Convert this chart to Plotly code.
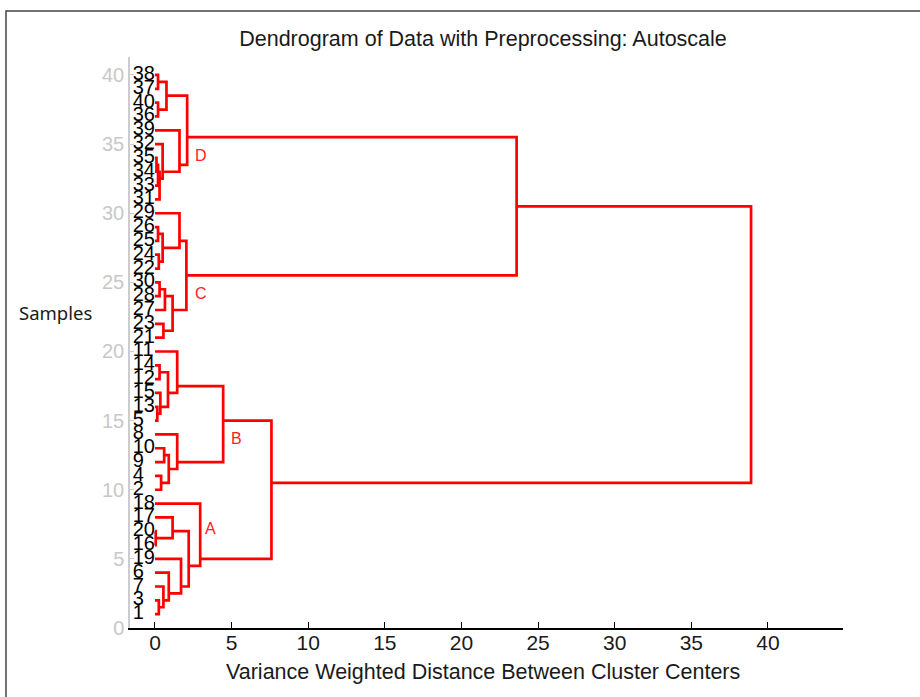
import plotly.graph_objects as go

# Sample order along the vertical axis, from y=1 (bottom) to y=40 (top)
leaf_order = [1, 3, 7, 6, 19, 16, 20, 17, 18, 2,
              4, 9, 10, 8, 5, 13, 15, 12, 14, 11,
              21, 23, 27, 28, 30, 22, 24, 25, 26, 29,
              31, 33, 34, 35, 32, 39, 36, 40, 37, 38]

# Linkage table: each row joins two nodes at a distance; new clusters get ids 41, 42, ...
link_a = [20, 13, 38, 40, 35, 26, 3, 24, 45, 14,
          30, 49, 15, 4, 46, 32, 7, 23, 10, 51,
          43, 50, 6, 59, 17, 60, 11, 8, 29, 39,
          19, 69, 61, 65, 18, 67, 76, 73, 78]
link_b = [16, 5, 37, 36, 34, 25, 1, 22, 33, 12,
          28, 31, 42, 2, 48, 52, 47, 21, 9, 27,
          44, 53, 57, 54, 41, 58, 62, 64, 55, 56,
          63, 66, 70, 71, 74, 68, 75, 72, 77]
link_dist = [0.05, 0.15, 0.2, 0.2, 0.1, 0.2, 0.25, 0.25, 0.2, 0.3,
             0.3, 0.3, 0.35, 0.4, 0.5, 0.5, 0.55, 0.55, 0.6, 0.65,
             0.75, 0.85, 0.9, 0.9, 1.15, 1.15, 1.45, 1.45, 1.6, 1.6,
             1.7, 2.05, 2.1, 2.2, 2.95, 4.45, 7.6, 23.6, 38.9]

# Cluster names and the linkage node each one refers to
cluster_names = ["A", "B", "C", "D"]
cluster_nodes = [75, 76, 72, 73]
cluster_label_dx = [0.65, 0.9, 0.95, 0.9]
cluster_label_dy = [2.2, -1.3, -1.3, -1.3]

y_ticks = [0, 5, 10, 15, 20, 25, 30, 35, 40]
x_ticks = [0, 5, 10, 15, 20, 25, 30, 35, 40]

# --- build dendrogram geometry -------------------------------------------
members = {leaf: [i + 1] for i, leaf in enumerate(leaf_order)}
height = {leaf: 0.0 for leaf in leaf_order}
ypos = {leaf: float(i + 1) for i, leaf in enumerate(leaf_order)}

xs, ys = [], []
for k, (a, b, d) in enumerate(zip(link_a, link_b, link_dist)):
    node = 41 + k
    members[node] = members[a] + members[b]
    height[node] = d
    ypos[node] = sum(members[node]) / len(members[node])
    xs += [height[a], d, d, height[b], None]
    ys += [ypos[a], ypos[a], ypos[b], ypos[b], None]

FONT = "Liberation Sans, Arial, sans-serif"

fig = go.Figure()
fig.add_trace(go.Scatter(
    x=xs, y=ys, mode="lines",
    line=dict(color="#ff0000", width=2.7),
    hoverinfo="skip", showlegend=False,
))

# leaf labels stacked next to the axis
fig.add_trace(go.Scatter(
    x=[-1.45] * len(leaf_order),
    y=[ypos[l] for l in leaf_order],
    mode="text",
    text=[str(l) for l in leaf_order],
    textposition="middle right",
    textfont=dict(family=FONT, size=20, color="#000000"),
    cliponaxis=False, hoverinfo="skip", showlegend=False,
))

annotations = []
for name, node, dx, dy in zip(cluster_names, cluster_nodes, cluster_label_dx, cluster_label_dy):
    annotations.append(dict(
        x=height[node] + dx, y=ypos[node] + dy, xref="x", yref="y",
        text=name, showarrow=False, xanchor="center", yanchor="middle",
        font=dict(family=FONT, size=16, color="#ff2020"),
    ))

annotations.append(dict(
    x=0.4944, y=-0.077, xref="paper", yref="paper",
    text="Variance Weighted Distance Between Cluster Centers",
    showarrow=False, xanchor="center", yanchor="middle",
    font=dict(family=FONT, size=21.5, color="#1a1a1a"),
))
annotations.append(dict(
    x=-0.105, y=0.5517, xref="paper", yref="paper",
    text="Samples", showarrow=False, xanchor="center", yanchor="middle",
    font=dict(family="Noto Sans, Open Sans, sans-serif", size=18.5, color="#1a1a1a"),
))

fig.update_layout(
    width=920, height=697,
    margin=dict(l=130, r=77, t=57, b=69),
    paper_bgcolor="white", plot_bgcolor="white",
    title=dict(
        text="Dendrogram of Data with Preprocessing: Autoscale",
        x=0.525, xref="container", xanchor="center",
        y=1 - 38 / 697, yref="container", yanchor="middle",
        font=dict(family=FONT, size=21.5, color="#1a1a1a"),
    ),
    annotations=annotations,
    shapes=[dict(
        type="rect", xref="paper", yref="paper",
        x0=(6 - 130) / 713, x1=2.0, y0=(628 - 11) / 571, y1=-2.0,
        line=dict(color="#444444", width=1.5), fillcolor="rgba(0,0,0,0)",
        layer="below",
    )],
    xaxis=dict(
        range=[-1.63, 44.9], tickvals=x_ticks,
        ticks="inside", ticklen=6, tickwidth=1.2, tickcolor="#000000",
        showline=True, linecolor="#000000", linewidth=1.5,
        showgrid=False, zeroline=False,
        ticklabelstandoff=-5,
        tickfont=dict(family=FONT, size=21, color="#1a1a1a"),
    ),
    yaxis=dict(
        range=[0, 41.3], tickvals=y_ticks,
        ticks="inside", ticklen=4, tickcolor="#cccccc",
        showline=True, linecolor="#cccccc", linewidth=1.5,
        showgrid=False, zeroline=False,
        ticklabelstandoff=0,
        tickfont=dict(family=FONT, size=20, color="#c8c8c8"),
    ),
)

fig.write_html("out.html")
